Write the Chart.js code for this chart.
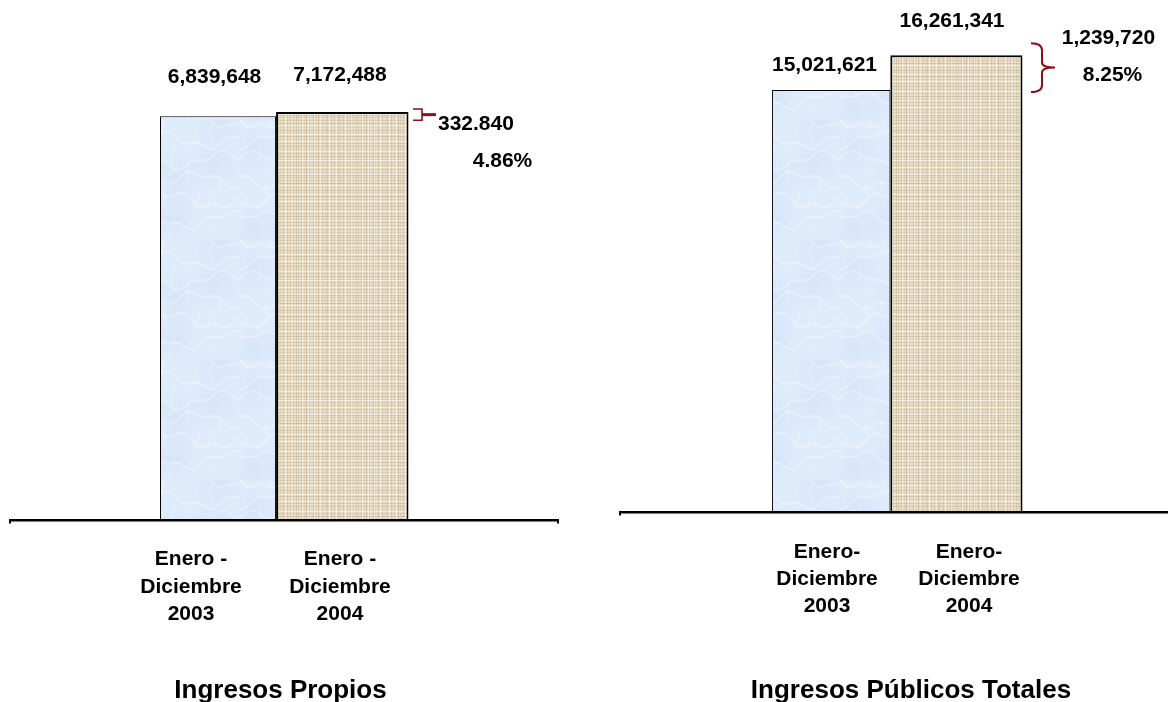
<!DOCTYPE html>
<html>
<head>
<meta charset="utf-8">
<script src="https://cdn.jsdelivr.net/npm/chart.js@4.4.0/dist/chart.umd.min.js"></script>
<style>
html,body{margin:0;padding:0;background:#fff;}
#wrap{position:relative;width:1168px;height:702px;overflow:hidden;background:#fff;}
#wrap canvas{position:absolute;left:0;top:0;}
</style>
</head>
<body>
<div id="wrap">
<canvas id="c1" width="1168" height="702"></canvas>
<canvas id="c2" width="1168" height="702"></canvas>
</div>
<script>
// ---------------- DATA ----------------
const propiosCategories = [['Enero -', 'Diciembre', '2003'], ['Enero -', 'Diciembre', '2004']];
const propiosValues = [6839648, 7172488];
const propiosChange = ['332.840', '4.86%'];
const propiosTitle = 'Ingresos Propios';

const totalesCategories = [['Enero-', 'Diciembre', '2003'], ['Enero-', 'Diciembre', '2004']];
const totalesValues = [15021621, 16261341];
const totalesChange = ['1,239,720', '8.25%'];
const totalesTitle = 'Ingresos Públicos Totales';

// ---------------- STYLE ----------------
const FONT = '"Liberation Sans", Arial, Helvetica, sans-serif';
const LABEL_FONT = 'bold 21px ' + FONT;
const TITLE_FONT = 'bold 26px ' + FONT;
const BRACE_COLOR = '#8b1212';

function makeMarble() {
  const s = 120;
  const c = document.createElement('canvas');
  c.width = s; c.height = s;
  const g = c.getContext('2d');
  g.fillStyle = '#deebfb';
  g.fillRect(0, 0, s, s);
  for (let k = 0; k < 6; k++) {
    const cx = (k * 41 + 13) % s, cy = (k * 67 + 29) % s;
    const grd = g.createRadialGradient(cx, cy, 0, cx, cy, 26);
    grd.addColorStop(0, 'rgba(200,216,242,0.35)');
    grd.addColorStop(1, 'rgba(200,216,242,0)');
    g.fillStyle = grd;
    g.fillRect(0, 0, s, s);
  }
  g.strokeStyle = 'rgba(255,255,255,0.30)';
  g.lineWidth = 2;
  for (let k = 0; k < 6; k++) {
    g.beginPath();
    for (let t = -10; t <= s + 10; t += 4) {
      const yy = k * 20 + 7 * Math.sin(t * 0.07 + k * 1.9) + 3 * Math.sin(t * 0.21 + k);
      if (t === -10) g.moveTo(t, yy); else g.lineTo(t, yy);
    }
    g.stroke();
  }
  g.strokeStyle = 'rgba(255,255,255,0.22)';
  g.lineWidth = 1.5;
  for (let k = 0; k < 5; k++) {
    g.beginPath();
    for (let t = -10; t <= s + 10; t += 4) {
      const xx = k * 24 + 6 * Math.sin(t * 0.09 + k * 2.3) + 3 * Math.sin(t * 0.25 + k * 0.7);
      if (t === -10) g.moveTo(xx, t); else g.lineTo(xx, t);
    }
    g.stroke();
  }
  return g.createPattern(c, 'repeat');
}

function makeLinen() {
  const s = 60;
  const c = document.createElement('canvas');
  c.width = s; c.height = s;
  const g = c.getContext('2d');
  g.fillStyle = '#e9dec8';
  g.fillRect(0, 0, s, s);
  const vx = [1, 4, 6, 9, 13, 15, 18, 22, 25, 27, 31, 34, 38, 40, 43, 47, 50, 53, 56, 58];
  const va = [0.20, 0.10, 0.27, 0.13, 0.22, 0.09, 0.25, 0.16, 0.10, 0.23, 0.18, 0.12, 0.27, 0.10, 0.20, 0.14, 0.24, 0.09, 0.21, 0.13];
  vx.forEach((x, i) => {
    g.fillStyle = 'rgba(150,128,92,' + va[i] + ')';
    g.fillRect(x, 0, 1, s);
  });
  const hy = [0, 3, 7, 10, 12, 16, 19, 23, 26, 29, 33, 36, 39, 42, 45, 49, 52, 55, 57];
  const ha = [0.16, 0.25, 0.10, 0.21, 0.13, 0.27, 0.12, 0.20, 0.23, 0.10, 0.18, 0.25, 0.12, 0.22, 0.14, 0.20, 0.10, 0.24, 0.16];
  hy.forEach((y, i) => {
    g.fillStyle = 'rgba(150,128,92,' + ha[i] + ')';
    g.fillRect(0, y, s, 1);
  });
  [2, 8, 14, 20, 29, 36, 45, 51].forEach(x => { g.fillStyle = 'rgba(255,252,240,0.45)'; g.fillRect(x, 0, 1, s); });
  [5, 14, 21, 31, 40, 47, 54].forEach(y => { g.fillStyle = 'rgba(255,252,240,0.45)'; g.fillRect(0, y, s, 1); });
  return g.createPattern(c, 'repeat');
}

const marble = makeMarble();
const linen = makeLinen();

const leftStyle = {
  id: 'left',
  padding: { left: 155.9, right: 763.6, top: 100, bottom: 182 },
  yMin: -24400000, yMax: 8100000,
  barPct: [0.934, 1.066],
  borders: [1, 2],
  baseline: { x0: 9, x1: 559 },
  valueDx: [-3.5, -2.3], valueDy: [-33.3, -31],
  catDx: [-27, -2.3], catDy: 45, catLine: 27.5,
  brace: 'bracket', braceX: 413, braceTopPad: -3, braceBotPad: 4,
  changePos: [{ x: 438, y: 130 }, { x: 472.7, y: 166.7 }],
  titleX: 280.5, titleY: 698
};

const rightStyle = {
  id: 'right',
  padding: { left: 768.6, right: 149, top: 40, bottom: 190 },
  yMin: 0, yMax: 16800000,
  barPct: [0.945, 1.056],
  borders: [1, 2],
  baseline: { x0: 619, x1: 1168 },
  valueDx: [-6.7, -4.4], valueDy: [-19.2, -27.8],
  catDx: [-4.2, 12.6], catDy: 46, catLine: 27,
  brace: 'curly', braceX: 1031, braceTopPad: -12, braceBotPad: 2,
  changePos: [{ x: 1061.7, y: 44.3 }, { x: 1082.7, y: 80.7 }],
  titleX: 911, titleY: 698
};

function annotPlugin(st, categories, values, change, title) {
  return {
    id: 'annot_' + st.id,
    afterDatasetsDraw(chart) {
      const ctx = chart.ctx;
      const xs = chart.scales.x, ys = chart.scales.y;
      const base = ys.bottom;
      ctx.save();
      ctx.fillStyle = '#000';
      ctx.fillRect(st.baseline.x0, base - 1, st.baseline.x1 - st.baseline.x0, 2.5);
      ctx.fillRect(st.baseline.x0, base, 2, 3.5);
      if (st.baseline.x1 < 1168) ctx.fillRect(st.baseline.x1 - 2, base, 2, 3.5);

      ctx.font = LABEL_FONT;
      ctx.textAlign = 'center';
      ctx.textBaseline = 'alphabetic';
      values.forEach((v, i) => {
        const px = xs.getPixelForValue(i) + st.valueDx[i];
        const py = ys.getPixelForValue(v) + st.valueDy[i];
        ctx.fillText(v.toLocaleString('en-US'), px, py);
      });

      categories.forEach((lines, i) => {
        lines.forEach((t, j) => {
          ctx.fillText(t, xs.getPixelForValue(i) + st.catDx[i], base + st.catDy + j * st.catLine);
        });
      });

      const yTop = ys.getPixelForValue(values[1]) + st.braceTopPad;
      const yBot = ys.getPixelForValue(values[0]) + st.braceBotPad;
      ctx.strokeStyle = BRACE_COLOR;
      ctx.fillStyle = BRACE_COLOR;
      if (st.brace === 'bracket') {
        const x0 = st.braceX, x1 = st.braceX + 9;
        ctx.lineWidth = 1.6;
        ctx.beginPath();
        ctx.moveTo(x0, yTop); ctx.lineTo(x1, yTop); ctx.lineTo(x1, yBot); ctx.lineTo(x0, yBot);
        ctx.stroke();
        const ym = (yTop + yBot) / 2;
        ctx.fillRect(x1, ym - 1.5, 14, 3);
      } else {
        const x0 = st.braceX, xm = st.braceX + 11, xt = st.braceX + 24;
        const ym = (yTop + yBot) / 2;
        ctx.lineWidth = 2;
        ctx.beginPath();
        ctx.moveTo(x0, yTop);
        ctx.quadraticCurveTo(xm, yTop, xm, yTop + 7);
        ctx.lineTo(xm, ym - 5);
        ctx.quadraticCurveTo(xm, ym, xt, ym);
        ctx.quadraticCurveTo(xm, ym, xm, ym + 5);
        ctx.lineTo(xm, yBot - 7);
        ctx.quadraticCurveTo(xm, yBot, x0, yBot);
        ctx.stroke();
      }

      ctx.fillStyle = '#000';
      ctx.font = LABEL_FONT;
      ctx.textAlign = 'left';
      change.forEach((t, i) => ctx.fillText(t, st.changePos[i].x, st.changePos[i].y));

      ctx.font = TITLE_FONT;
      ctx.textAlign = 'center';
      ctx.fillText(title, st.titleX, st.titleY);
      ctx.restore();
    }
  };
}

function buildChart(canvasId, st, categories, values, change, title) {
  return new Chart(document.getElementById(canvasId), {
    type: 'bar',
    data: {
      labels: categories,
      datasets: [
        {
          data: [values[0], null],
          base: st.yMin,
          clip: false,
          backgroundColor: marble,
          borderColor: '#000',
          borderWidth: st.borders[0],
          barPercentage: st.barPct[0]
        },
        {
          data: [null, values[1]],
          base: st.yMin,
          clip: false,
          backgroundColor: linen,
          borderColor: '#000',
          borderWidth: st.borders[1],
          barPercentage: st.barPct[1]
        }
      ]
    },
    options: {
      responsive: false,
      animation: false,
      devicePixelRatio: 1,
      layout: { padding: st.padding },
      datasets: { bar: { grouped: false, categoryPercentage: 1 } },
      plugins: { legend: { display: false }, tooltip: { enabled: false }, title: { display: false } },
      scales: {
        x: { display: false, offset: true },
        y: { display: false, min: st.yMin, max: st.yMax }
      }
    },
    plugins: [annotPlugin(st, categories, values, change, title)]
  });
}

buildChart('c1', leftStyle, propiosCategories, propiosValues, propiosChange, propiosTitle);
buildChart('c2', rightStyle, totalesCategories, totalesValues, totalesChange, totalesTitle);
</script>
</body>
</html>
